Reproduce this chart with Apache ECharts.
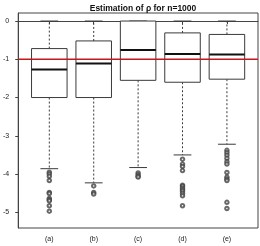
<!DOCTYPE html>
<html><head><meta charset="utf-8">
<script src="https://cdn.jsdelivr.net/npm/echarts@6/dist/echarts.min.js"></script>
<style>html,body{margin:0;padding:0;background:#fff}#c{width:260px;height:246px}</style>
</head><body><div id="c"></div>
<script>
const categories = ['(a)', '(b)', '(c)', '(d)', '(e)'];
// [lowerWhisker, Q1, median, Q3, upperWhisker]
const boxStats = [
  [-3.86, -2.00, -1.27, -0.72, 0],
  [-4.23, -2.00, -1.11, -0.52, 0],
  [-3.83, -1.55, -0.76, 0.00, 0],
  [-3.50, -1.60, -0.86, -0.31, 0],
  [-3.22, -1.52, -0.875, -0.35, 0]
];
const outliersA = [-3.95, -4.00, -4.06, -4.17, -4.48, -4.51, -4.64, -4.67, -4.70, -4.83, -4.97];
const outliersB = [-4.31, -4.48, -4.52];
const outliersC = [-3.97, -4.02, -4.06, -4.08];
const outliersD = [-3.61, -3.74, -3.80, -3.91, -4.29, -4.32, -4.37, -4.41, -4.45, -4.51, -4.57, -4.83];
const outliersE = [-3.38, -3.44, -3.51, -3.59, -3.68, -3.74, -3.96, -4.08, -4.13, -4.17, -4.74, -4.90];
const yTicks = [0, -1, -2, -3, -4, -5];
const xRange = [0.3, 5.7];
const trueValue = -1;
const titleText = 'Estimation of ρ for n=1000';

const outlierSets = [outliersA, outliersB, outliersC, outliersD, outliersE];
const boxData = boxStats.map((s, i) => [i + 1].concat(s));
const outlierData = [];
outlierSets.forEach((arr, i) => arr.forEach(v => outlierData.push([i + 1, v])));

const chart = echarts.init(document.getElementById('c'), null, {renderer: 'canvas'});
const lineColor = '#3a3a3a';
function renderItem(params, api) {
  const x = api.value(0);
  const lw = api.value(1), q1 = api.value(2), med = api.value(3), q3 = api.value(4), uw = api.value(5);
  const L = api.coord([x - 0.4, q1]);
  const R = api.coord([x + 0.4, q3]);
  const cx = api.coord([x, 0])[0];
  const capL = api.coord([x - 0.2, 0])[0];
  const capR = api.coord([x + 0.2, 0])[0];
  const yLw = api.coord([x, lw])[1], yUw = api.coord([x, uw])[1];
  const yMed = api.coord([x, med])[1];
  const st = {stroke: lineColor, lineWidth: 1, fill: null};
  const dash = {stroke: lineColor, lineWidth: 1, lineDash: [2, 2]};
  return {type: 'group', children: [
    {type: 'line', shape: {x1: cx, y1: R[1], x2: cx, y2: yUw}, style: dash},
    {type: 'line', shape: {x1: cx, y1: L[1], x2: cx, y2: yLw}, style: dash},
    {type: 'line', shape: {x1: capL, y1: yUw, x2: capR, y2: yUw}, style: st},
    {type: 'line', shape: {x1: capL, y1: yLw, x2: capR, y2: yLw}, style: st},
    {type: 'rect', shape: {x: L[0], y: R[1], width: R[0] - L[0], height: L[1] - R[1]}, style: {stroke: lineColor, lineWidth: 1, fill: '#fff'}},
    {type: 'line', shape: {x1: L[0], y1: yMed, x2: R[0], y2: yMed}, style: {stroke: '#111', lineWidth: 2}}
  ]};
}
chart.setOption({
  animation: false,
  title: {text: titleText, left: 138, top: -1, textAlign: 'center',
    textStyle: {fontFamily: 'Liberation Sans', fontSize: 8.5, fontWeight: 'bold', color: '#111'}},
  grid: {left: 17, right: 2, top: 13, bottom: 18, show: true, borderColor: '#444', borderWidth: 1, backgroundColor: 'transparent'},
  xAxis: {type: 'value', min: xRange[0], max: xRange[1], splitLine: {show: false},
    axisLine: {show: true, lineStyle: {color: '#444'}},
    axisTick: {show: true, length: 3, customValues: [1, 2, 3, 4, 5], lineStyle: {color: '#444'}},
    axisLabel: {customValues: [1, 2, 3, 4, 5], margin: 8, formatter: v => categories[Math.round(v) - 1] || '',
      fontFamily: 'Liberation Sans', fontSize: 7, color: '#222'}},
  yAxis: {type: 'value', min: -5.41, max: 0.21, splitLine: {show: false},
    axisLine: {show: true, lineStyle: {color: '#444'}},
    axisTick: {show: true, length: 3, customValues: yTicks, lineStyle: {color: '#444'}},
    axisLabel: {customValues: yTicks, margin: 9, fontFamily: 'Liberation Sans', fontSize: 7, color: '#222'}},
  series: [
    {type: 'custom', renderItem: renderItem, data: boxData, encode: {x: 0, y: [1, 2, 3, 4, 5]}, z: 2},
    {type: 'scatter', data: outlierData, symbol: 'emptyCircle', symbolSize: 3.5,
      itemStyle: {color: '#444', borderColor: '#444', borderWidth: 0.8}, z: 3},
    {type: 'line', data: [[xRange[0], trueValue], [xRange[1], trueValue]], symbol: 'none', z: 10, zlevel: 1,
      color: '#ff0000', lineStyle: {color: '#ff0000', width: 1.6, opacity: 1}, itemStyle: {color: '#ff0000'}}
  ]
});
</script></body></html>
